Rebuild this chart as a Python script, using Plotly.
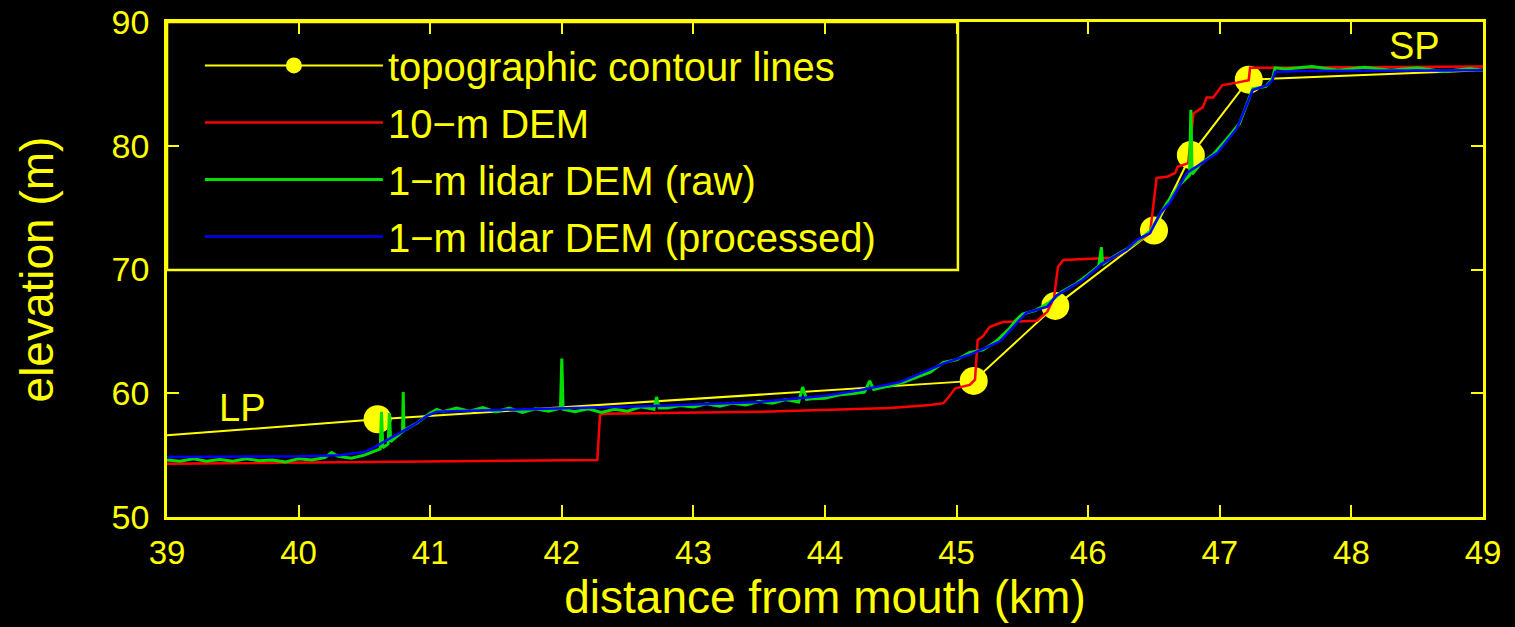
import plotly.graph_objects as go

YEL = "#FFFF00"
FONT = "Liberation Sans, Arial, Helvetica, sans-serif"

# topographic contour line crossings (km, m) plus end points of the line
topo_km = [39.0, 40.60, 45.13, 45.75, 46.50, 46.78, 47.22, 49.0]
topo_m = [56.6, 57.9, 61.0, 67.06, 73.15, 79.25, 85.34, 86.1]
topo_marker = [0, 28, 28, 28, 28, 28, 28, 0]

# 10-m DEM profile
dem10_km = [39.0, 40.5, 42.27, 42.29, 42.31, 43.5, 44.5, 44.8, 44.9, 44.94, 44.99,
            45.1, 45.14, 45.16, 45.2, 45.25, 45.35, 45.61, 45.69, 45.74, 45.77, 45.81,
            46.19, 46.29, 46.47, 46.52, 46.6, 46.66, 46.68, 46.76, 46.8, 46.87, 46.9,
            46.95, 47.02, 47.13, 47.22, 47.23, 49.0]
dem10_m = [54.3, 54.45, 54.6, 58.2, 58.35, 58.5, 58.8, 59.05, 59.2, 59.7, 60.4,
           60.67, 61.1, 64.3, 64.6, 65.35, 65.76, 65.85, 66.6, 67.7, 70.2, 70.77,
           70.95, 71.6, 72.95, 77.4, 77.5, 77.8, 78.3, 78.6, 82.6, 83.1, 83.9,
           83.9, 84.9, 85.1, 85.3, 86.3, 86.4]

# 1-m lidar DEM (raw)
raw_km = [39.0, 39.1, 39.2, 39.3, 39.4, 39.5, 39.6, 39.7, 39.8, 39.9, 40.0, 40.1, 40.2,
          40.25, 40.3, 40.4, 40.5, 40.58, 40.62, 40.63, 40.64, 40.68, 40.69, 40.70,
          40.79, 40.795, 40.80, 40.9, 41.0, 41.05, 41.1, 41.2, 41.3, 41.4, 41.5, 41.6,
          41.7, 41.8, 41.9, 41.99, 42.0, 42.01, 42.1, 42.2, 42.3, 42.4, 42.5, 42.6,
          42.7, 42.72, 42.74, 42.8, 42.9, 43.0, 43.1, 43.2, 43.3, 43.4, 43.5, 43.6,
          43.7, 43.8, 43.83, 43.86, 43.9, 44.0, 44.1, 44.2, 44.3, 44.34, 44.37, 44.45,
          44.5, 44.6, 44.7, 44.8, 44.9, 45.0, 45.1, 45.2, 45.3, 45.4, 45.45, 45.5,
          45.6, 45.7, 45.8, 45.9, 46.0, 46.08, 46.1, 46.11, 46.2, 46.3, 46.4, 46.47,
          46.55, 46.6, 46.7, 46.77, 46.78, 46.79, 46.85, 46.95, 47.05, 47.15, 47.25,
          47.35, 47.4, 47.42, 47.5, 47.7, 47.9, 48.1, 48.3, 48.5, 48.7, 48.9, 49.0]
raw_m = [54.6, 54.5, 54.7, 54.5, 54.65, 54.5, 54.7, 54.55, 54.6, 54.45, 54.7, 54.6, 54.8,
         55.2, 54.9, 54.75, 55.0, 55.3, 55.5, 58.5, 55.6, 55.9, 58.4, 56.1,
         56.9, 60.1, 57.0, 57.6, 58.4, 58.7, 58.5, 58.8, 58.55, 58.85, 58.5, 58.8,
         58.45, 58.75, 58.55, 58.8, 62.8, 58.7, 58.5, 58.75, 58.45, 58.7, 58.55, 58.9,
         58.7, 59.7, 58.8, 58.8, 59.0, 58.9, 59.15, 58.95, 59.2, 59.05, 59.35, 59.2,
         59.5, 59.3, 60.5, 59.5, 59.55, 59.6, 59.85, 59.95, 60.1, 61.0, 60.3, 60.5,
         60.6, 60.9, 61.3, 61.7, 62.5, 62.7, 63.3, 63.5, 64.2, 65.2, 65.9, 66.4,
         66.7, 67.3, 68.2, 68.8, 69.6, 70.3, 71.8, 70.4, 71.1, 71.7, 72.5, 73.1,
         74.5, 75.4, 76.9, 77.6, 82.9, 77.7, 78.5, 79.3, 80.5, 81.8, 84.6,
         84.8, 85.4, 86.3, 86.2, 86.4, 86.1, 86.35, 86.1, 86.3, 86.0, 86.25, 86.1]

# 1-m lidar DEM (processed)
proc_km = [39.0, 39.5, 40.0, 40.31, 40.5, 40.57, 40.72, 40.87, 40.98, 41.05, 41.5, 42.0,
           42.75, 43.51, 44.0, 44.27, 44.57, 44.9, 45.12, 45.33, 45.45, 45.53, 45.69,
           45.76, 45.96, 46.11, 46.29, 46.37, 46.47, 46.55, 46.62, 46.75, 46.9, 46.98,
           47.13, 47.25, 47.36, 47.4, 47.42, 47.61, 49.0]
proc_m = [54.85, 54.85, 54.9, 55.0, 55.25, 55.6, 56.5, 57.4, 58.2, 58.5, 58.65, 58.8,
          59.0, 59.3, 59.8, 60.26, 60.9, 62.4, 63.2, 64.2, 65.6, 66.5, 67.0,
          67.9, 69.15, 70.5, 71.6, 72.4, 72.95, 74.6, 75.4, 77.8, 78.85, 79.4,
          81.4, 84.5, 84.9, 85.3, 85.96, 86.05, 86.1]

x_ticks = [39, 40, 41, 42, 43, 44, 45, 46, 47, 48, 49]
y_ticks = [50, 60, 70, 80, 90]

fig = go.Figure()
fig.add_trace(go.Scatter(x=topo_km, y=topo_m, mode="lines+markers",
                         name="topographic contour lines", legendgroup="a",
                         line=dict(color=YEL, width=2),
                         marker=dict(color=YEL, size=topo_marker, opacity=1,
                                     line=dict(width=0))))
fig.add_trace(go.Scatter(x=dem10_km, y=dem10_m, mode="lines", name="10−m DEM",
                         legendgroup="b", line=dict(color="#FF0000", width=2.5)))
fig.add_trace(go.Scatter(x=raw_km, y=raw_m, mode="lines", name="1−m lidar DEM (raw)",
                         legendgroup="c", line=dict(color="#00E000", width=3)))
fig.add_trace(go.Scatter(x=proc_km, y=proc_m, mode="lines",
                         name="1−m lidar DEM (processed)", legendgroup="d",
                         line=dict(color="#0000FF", width=2.5)))

axis_common = dict(showline=True, linecolor=YEL, linewidth=2.5, mirror="allticks",
                   ticks="inside", ticklen=12, tickwidth=2, tickcolor=YEL,
                   showgrid=False, zeroline=False, automargin=False)

fig.update_layout(
    width=1515, height=627,
    margin=dict(l=167, r=32, t=22, b=110),
    paper_bgcolor="black", plot_bgcolor="black",
    showlegend=True,
    xaxis=dict(range=[39, 49], tickvals=x_ticks, ticktext=[str(v) for v in x_ticks],
               tickfont=dict(family=FONT, size=33, color=YEL),
               title=dict(text="distance from mouth (km)", standoff=6,
                          font=dict(family=FONT, size=46, color=YEL)),
               ticklabelstandoff=5, **axis_common),
    yaxis=dict(range=[50, 90], tickvals=y_ticks, ticktext=[str(v) for v in y_ticks],
               tickfont=dict(family=FONT, size=34, color=YEL),
               title=dict(text="elevation (m)", standoff=44,
                          font=dict(family=FONT, size=46, color=YEL)),
               ticklabelstandoff=8, **axis_common),
    legend=dict(x=0.025, y=0.978, xanchor="left", yanchor="top",
                bgcolor="rgba(0,0,0,0)", borderwidth=0, itemwidth=178,
                tracegroupgap=2,
                font=dict(family=FONT, size=40, color=YEL)),
    shapes=[dict(type="rect", xref="paper", yref="paper", x0=0, x1=0.601,
                 y0=0.499, y1=1, line=dict(color=YEL, width=2.5),
                 fillcolor="black", layer="below")],
    annotations=[
        dict(x=39.57, y=58.8, xref="x", yref="y", text="LP", showarrow=False,
             font=dict(family=FONT, size=38, color=YEL)),
        dict(x=48.48, y=88.1, xref="x", yref="y", text="SP", showarrow=False,
             font=dict(family=FONT, size=38, color=YEL)),
    ],
)

fig.write_html("out.html",
               config={"displayModeBar": False},
               post_script="document.body.style.margin='0';"
                           "document.body.style.overflow='hidden';")
